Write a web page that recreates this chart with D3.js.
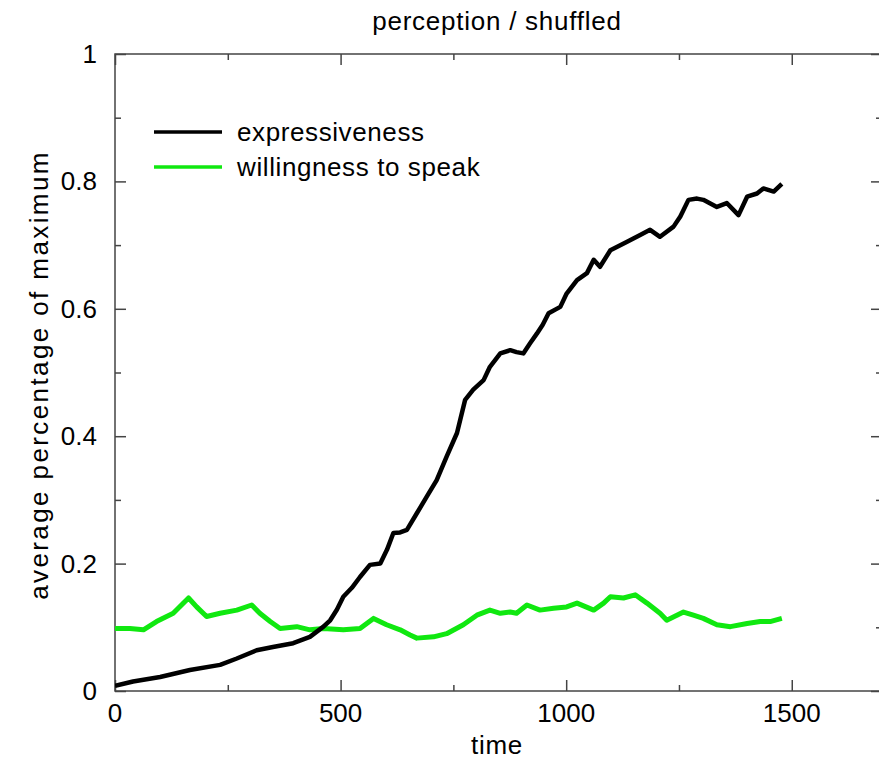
<!DOCTYPE html>
<html>
<head>
<meta charset="utf-8">
<script src="https://cdn.jsdelivr.net/npm/d3@7"></script>
<style>
  html, body { margin: 0; padding: 0; background: #fff; }
  svg { display: block; font-family: "Liberation Sans", Arial, Helvetica, sans-serif; }
</style>
</head>
<body>
<svg id="chart" width="879" height="767"></svg>
<script>
// Simulation output: average fraction of the maximum over time
const expTime = [0, 40, 100, 166, 233, 270, 314, 350, 395, 432, 462, 477, 492, 506, 525, 543, 565, 588, 603, 617, 632, 647, 669, 691, 713, 735, 758, 776, 794, 817, 831, 854, 876, 890, 905, 920, 935, 948, 961, 987, 1001, 1024, 1046, 1061, 1075, 1098, 1134, 1164, 1186, 1208, 1238, 1253, 1271, 1290, 1304, 1334, 1356, 1382, 1401, 1423, 1437, 1460, 1478];
const expValue = [0.008, 0.015, 0.022, 0.033, 0.041, 0.051, 0.064, 0.069, 0.075, 0.085, 0.101, 0.111, 0.128, 0.148, 0.162, 0.179, 0.198, 0.200, 0.222, 0.248, 0.249, 0.253, 0.279, 0.305, 0.331, 0.368, 0.405, 0.457, 0.473, 0.488, 0.509, 0.530, 0.535, 0.532, 0.530, 0.546, 0.561, 0.575, 0.593, 0.603, 0.624, 0.645, 0.656, 0.677, 0.666, 0.692, 0.705, 0.716, 0.724, 0.713, 0.729, 0.745, 0.771, 0.773, 0.771, 0.760, 0.766, 0.747, 0.776, 0.781, 0.789, 0.784, 0.796];

const willTime = [0, 33, 63, 92, 129, 163, 181, 203, 233, 270, 303, 321, 344, 366, 403, 432, 462, 506, 543, 573, 602, 632, 654, 669, 706, 735, 772, 802, 831, 854, 876, 890, 913, 942, 972, 1001, 1024, 1061, 1083, 1098, 1127, 1153, 1179, 1208, 1223, 1260, 1282, 1304, 1334, 1364, 1401, 1430, 1452, 1478];
const willValue = [0.098, 0.098, 0.096, 0.109, 0.122, 0.146, 0.132, 0.117, 0.122, 0.127, 0.135, 0.122, 0.109, 0.098, 0.101, 0.096, 0.098, 0.096, 0.098, 0.114, 0.104, 0.096, 0.088, 0.083, 0.085, 0.090, 0.104, 0.119, 0.127, 0.122, 0.124, 0.122, 0.135, 0.127, 0.130, 0.132, 0.138, 0.127, 0.138, 0.148, 0.146, 0.151, 0.138, 0.122, 0.111, 0.124, 0.119, 0.114, 0.104, 0.101, 0.106, 0.109, 0.109, 0.114];

const seriesNames = ["expressiveness", "willingness to speak"];
const seriesColors = ["#000000", "#10e810"];

const xTicks = [0, 500, 1000, 1500];
const xMinorTicks = [250, 750, 1250];
const yTicks = [0, 0.2, 0.4, 0.6, 0.8, 1];
const yMinorTicks = [0.1, 0.3, 0.5, 0.7, 0.9];

const titleText = "perception / shuffled";
const xLabel = "time";
const yLabel = "average percentage of maximum";

const svg = d3.select("#chart");
const margin = { left: 115, top: 54, right: 882, bottom: 691 };

const x = d3.scaleLinear().domain([0, 1700]).range([margin.left, margin.right]);
const y = d3.scaleLinear().domain([0, 1]).range([margin.bottom, margin.top]);

const frameColor = "#444";
const labelFont = 26;

// frame
svg.append("rect")
  .attr("x", margin.left).attr("y", margin.top)
  .attr("width", margin.right - margin.left).attr("height", margin.bottom - margin.top)
  .attr("fill", "none").attr("stroke", frameColor).attr("stroke-width", 1.5);

// axes with inward ticks on all four sides
function tickAxis(axisGen, transform) {
  const g = svg.append("g").attr("transform", transform).call(axisGen);
  g.select(".domain").remove();
  g.selectAll("line").attr("stroke", frameColor).attr("stroke-width", 1.5);
  g.selectAll("text").remove();
  return g;
}
tickAxis(d3.axisBottom(x).tickValues(xTicks).tickSize(-11), `translate(0,${margin.bottom})`);
tickAxis(d3.axisBottom(x).tickValues(xMinorTicks).tickSize(-6), `translate(0,${margin.bottom})`);
tickAxis(d3.axisTop(x).tickValues(xTicks).tickSize(-11), `translate(0,${margin.top})`);
tickAxis(d3.axisTop(x).tickValues(xMinorTicks).tickSize(-6), `translate(0,${margin.top})`);
tickAxis(d3.axisLeft(y).tickValues(yTicks).tickSize(-11), `translate(${margin.left},0)`);
tickAxis(d3.axisLeft(y).tickValues(yMinorTicks).tickSize(-6), `translate(${margin.left},0)`);
tickAxis(d3.axisRight(y).tickValues(yTicks).tickSize(-11), `translate(${margin.right},0)`);
tickAxis(d3.axisRight(y).tickValues(yMinorTicks).tickSize(-6), `translate(${margin.right},0)`);

// tick labels
svg.append("g").selectAll("text").data(xTicks).join("text")
  .attr("x", d => x(d)).attr("y", 722)
  .attr("text-anchor", "middle").attr("font-size", labelFont).attr("fill", "#000")
  .text(d => d3.format("d")(d));
svg.append("g").selectAll("text").data(yTicks).join("text")
  .attr("x", 97).attr("y", d => y(d) + 9)
  .attr("text-anchor", "end").attr("font-size", labelFont).attr("fill", "#000")
  .text(d => d === 0 || d === 1 ? d3.format("d")(d) : d3.format(".1f")(d));

// title and axis labels
svg.append("text").attr("x", 497).attr("y", 30).attr("text-anchor", "middle")
  .attr("font-size", 26).attr("letter-spacing", 0.75).text(titleText);
svg.append("text").attr("x", 497).attr("y", 754).attr("text-anchor", "middle")
  .attr("font-size", 26).attr("letter-spacing", 0.75).text(xLabel);
svg.append("text").attr("transform", "translate(48,375) rotate(-90)").attr("text-anchor", "middle")
  .attr("font-size", 26).attr("letter-spacing", 2.4).text(yLabel);

// series
const line = d3.line().x(d => x(d[0])).y(d => y(d[1]));
svg.append("clipPath").attr("id", "plot-clip").append("rect")
  .attr("x", margin.left).attr("y", margin.top)
  .attr("width", margin.right - margin.left).attr("height", margin.bottom - margin.top);

const series = [
  { pts: d3.zip(willTime, willValue), color: seriesColors[1], w: 5 },
  { pts: d3.zip(expTime, expValue), color: seriesColors[0], w: 4.5 }
];
svg.append("g").attr("clip-path", "url(#plot-clip)")
  .selectAll("path").data(series).join("path")
  .attr("d", d => line(d.pts))
  .attr("fill", "none").attr("stroke", d => d.color)
  .attr("stroke-width", d => d.w).attr("stroke-linejoin", "round");

// legend
const legend = svg.append("g");
seriesNames.forEach((name, i) => {
  const ly = 132 + i * 35;
  legend.append("line").attr("x1", 154).attr("x2", 222).attr("y1", ly).attr("y2", ly)
    .attr("stroke", seriesColors[i]).attr("stroke-width", 3.5);
  legend.append("text").attr("x", 237).attr("y", ly + 9)
    .attr("font-size", 26).attr("letter-spacing", 0.6).text(name);
});
</script>
</body>
</html>
